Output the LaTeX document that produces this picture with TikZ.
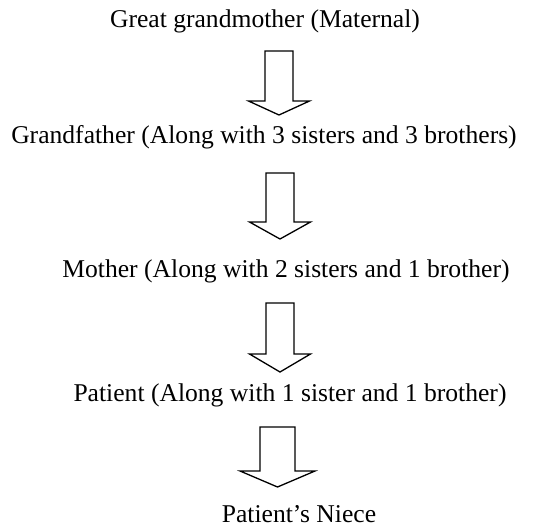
\documentclass[tikz,border=0pt]{standalone}
\usepackage{fontspec}
\setmainfont{Liberation Serif}
\usepackage{tikz}
% block arrow: centre x, top of shaft, base of head, tip, shaft half width, head half width
\newcommand{\downblock}[6]{%
  \draw[line width=1.3pt, line join=miter]
    (#1-#5,#2) -- (#1+#5,#2) -- (#1+#5,#3) -- (#1+#6,#3) -- (#1,#4)
    -- (#1-#6,#3) -- (#1-#5,#3) -- cycle;}

\begin{document}
\begin{tikzpicture}[x=1pt, y=-1pt,
    gen/.style={anchor=base, inner sep=0pt, font=\fontsize{25.6}{30}\selectfont}]
        \useasboundingbox (0,0) rectangle (536,528);
        % Generations
        \node[gen] (ggm) at (265,27) {Great grandmother (Maternal)};
        \node[gen] (gf) at (264,143) {Grandfather (Along with 3 sisters and 3 brothers)};
        \node[gen] (mo) at (286,277) {Mother (Along with 2 sisters and 1 brother)};
        \node[gen] (pt) at (290,401) {Patient (Along with 1 sister and 1 brother)};
        \node[gen] (ni) at (299,522) {Patient's Niece};
        % Arrows
        \downblock{279}{51}{101}{115}{14}{30.5}
        \downblock{280}{173}{222}{239}{14}{30.5}
        \downblock{280}{303}{354}{372}{14}{30.5}
        \downblock{277.5}{427}{471}{487}{17.5}{37.5}
      \end{tikzpicture}
\end{document}
